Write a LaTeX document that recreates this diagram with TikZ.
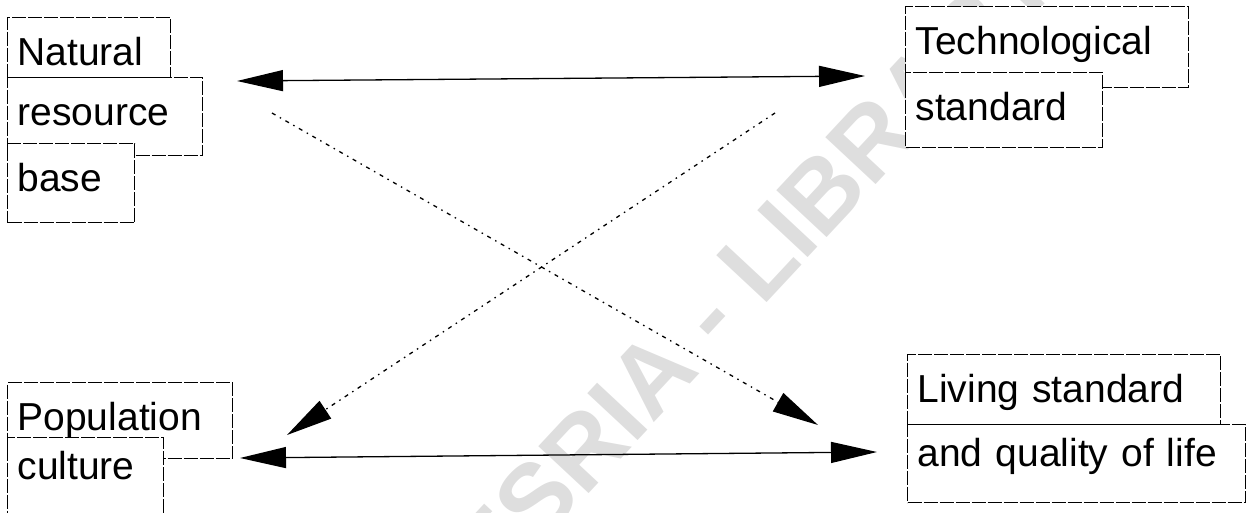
\documentclass[tikz,border=0pt]{standalone}
\usepackage{fontspec}
\setmainfont{Liberation Sans}
\usetikzlibrary{arrows.meta}

\begin{document}
\begin{tikzpicture}[
    x=1pt, y=-1pt,
    every node/.style={font=\fontsize{39}{44}\selectfont},
    >={Triangle[length=46pt, width=21pt]},
    box/.style={draw, fill=white, line width=1.2pt, dash pattern=on 14pt off 2pt,
                anchor=north west, inner xsep=10pt, inner ysep=0pt, align=left,
                text height=48pt},
    link/.style={line width=1.3pt},
    cross/.style={line width=1.3pt, dash pattern=on 4pt off 5pt on 1.5pt off 5pt},
    wmark/.style={text=black!13, font=\bfseries\fontsize{100}{110}\selectfont},
  ]
    \useasboundingbox (0,0) rectangle (1251,512);
    \node[wmark, rotate=47] (wm) at (677,348) {CODESRIA - LIBRARY};
    % left column
    \node[box, text width=143pt, text depth=12pt] (nat) at (7,17) {Natural};
    \node[box, text width=175pt, text depth=30pt] (res) at (7,77) {resource};
    \node[box, text width=107pt, text depth=31pt] (bas) at (7,143) {base};
    \node[box, text width=205pt, text depth=28pt] (pop) at (7,382) {Population};
    \node[box, text width=136pt, text height=42pt, text depth=53pt] (cul) at (7,437) {culture};
    % right column
    \node[box, text width=263pt, text depth=33pt] (tec) at (905,6) {Technological};
    \node[box, text width=177pt, text depth=27pt] (std) at (905,72) {standard};
    \node[box, text width=293pt, text depth=22pt] (liv) at (907,354) {Living standard};
    \node[box, text width=318pt, text height=42pt, text depth=36pt] (qua) at (907,424) {and quality of life};
    % arrow ends
    \coordinate (natE) at (237,81);
    \coordinate (tecW) at (865,76);
    \coordinate (popE) at (240,458);
    \coordinate (livW) at (877,452);
    \coordinate (natSE) at (272,113);
    \coordinate (livNW) at (818,425);
    \coordinate (tecSW) at (775,113);
    \coordinate (popNE) at (287,435);
    \draw[link, <->] (natE) -- (tecW);
    \draw[link, <->] (popE) -- (livW);
    \draw[cross, ->] (natSE) -- (livNW);
    \draw[cross, ->] (tecSW) -- (popNE);
\end{tikzpicture}
\end{document}
